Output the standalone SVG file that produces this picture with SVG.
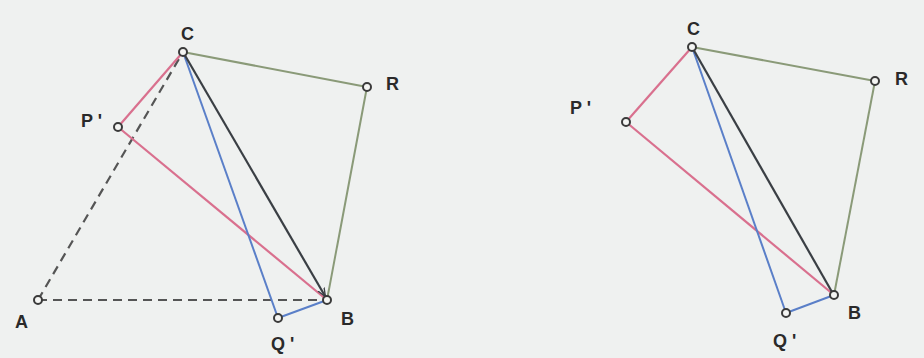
<svg xmlns="http://www.w3.org/2000/svg" width="924" height="358" viewBox="0 0 924 358">
<style>
.bg{fill:#eff1f0}
.pt{fill:#f4f5f3;stroke:#3a3a3a;stroke-width:2}
.lbl{font-family:"Liberation Sans",Arial,sans-serif;font-weight:bold;font-size:18px;fill:#2a2a2a}
.grn{stroke:#8a9a78;stroke-width:2;fill:none}
.blk{stroke:#3a3f44;stroke-width:2.2;fill:none}
.pnk{stroke:#d9708e;stroke-width:2.2;fill:none}
.blu{stroke:#5a7fc8;stroke-width:2;fill:none}
.dsh{stroke:#555;stroke-width:2.2;stroke-dasharray:9 6;fill:none}
</style>
<defs>
<marker id="ah" viewBox="0 0 10 10" refX="9" refY="5" markerWidth="4" markerHeight="4" orient="auto">
<path d="M0,1 L10,5 L0,9" fill="none" stroke="#3a3f44" stroke-width="1.5"/>
</marker>
</defs>
<rect class="bg" x="0" y="0" width="924" height="358"/>
<g id="connectors">
<line class="dsh" x1="38" y1="300" x2="183" y2="52"/>
<line class="dsh" x1="38" y1="300" x2="327" y2="300"/>
<line class="grn" x1="183" y1="52" x2="367" y2="87"/>
<line class="grn" x1="367" y1="87" x2="327" y2="300"/>
<line class="pnk" x1="183" y1="52" x2="118" y2="127"/>
<line class="pnk" x1="118" y1="127" x2="327" y2="300"/>
<line class="blu" x1="183" y1="52" x2="278" y2="318"/>
<line class="blu" x1="278" y1="318" x2="327" y2="300"/>
<line class="blk" x1="183" y1="52" x2="325" y2="296" marker-end="url(#ah)"/>
<line class="grn" x1="692" y1="47" x2="875" y2="81"/>
<line class="grn" x1="875" y1="81" x2="834" y2="295"/>
<line class="pnk" x1="692" y1="47" x2="626" y2="122"/>
<line class="pnk" x1="626" y1="122" x2="834" y2="295"/>
<line class="blu" x1="692" y1="47" x2="786" y2="313"/>
<line class="blu" x1="786" y1="313" x2="834" y2="295"/>
<line class="blk" x1="692" y1="47" x2="832" y2="292"/>
</g>
<g id="A"><circle class="pt" cx="38" cy="300" r="4"/><text class="lbl" x="15" y="328">A</text></g>
<g id="B1"><circle class="pt" cx="327" cy="300" r="4"/><text class="lbl" x="341" y="325">B</text></g>
<g id="C1"><circle class="pt" cx="183" cy="52" r="4"/><text class="lbl" x="181" y="40">C</text></g>
<g id="R1"><circle class="pt" cx="367" cy="87" r="4"/><text class="lbl" x="386" y="90">R</text></g>
<g id="P1"><circle class="pt" cx="118" cy="127" r="4"/><text class="lbl" x="81" y="127">P '</text></g>
<g id="Q1"><circle class="pt" cx="278" cy="318" r="4"/><text class="lbl" x="271" y="350">Q '</text></g>
<g id="B2"><circle class="pt" cx="834" cy="295" r="4"/><text class="lbl" x="848" y="319">B</text></g>
<g id="C2"><circle class="pt" cx="692" cy="47" r="4"/><text class="lbl" x="687" y="35">C</text></g>
<g id="R2"><circle class="pt" cx="875" cy="81" r="4"/><text class="lbl" x="895" y="85">R</text></g>
<g id="P2"><circle class="pt" cx="626" cy="122" r="4"/><text class="lbl" x="570" y="114">P '</text></g>
<g id="Q2"><circle class="pt" cx="786" cy="313" r="4"/><text class="lbl" x="773" y="347">Q '</text></g>
</svg>
